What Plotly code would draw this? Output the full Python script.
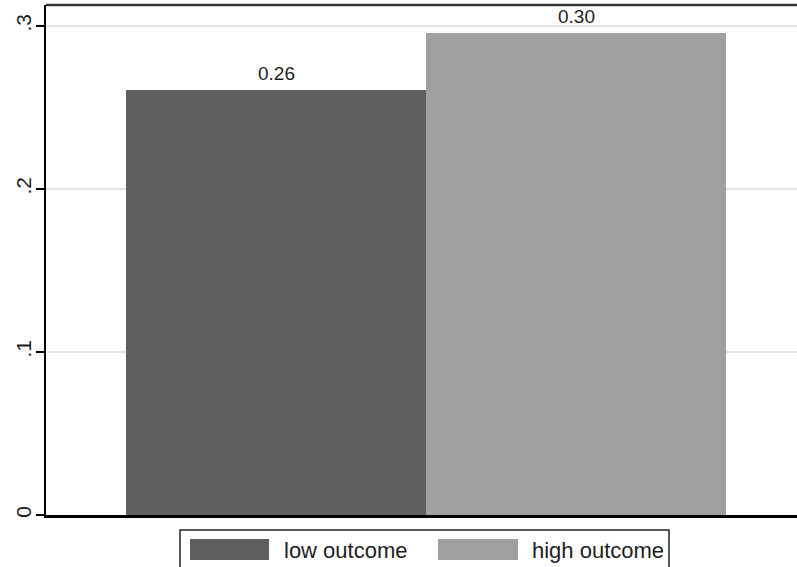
import plotly.graph_objects as go

# ---- data ----
categories = ["low outcome", "high outcome"]
values = [0.2607, 0.2957]
bar_labels = ["0.26", "0.30"]
colors = ["#5f5f5f", "#a0a0a0"]
ytick_vals = [0, 0.1, 0.2, 0.3]
ytick_text = ["0", ".1", ".2", ".3"]

W, H = 797, 567
ML, MR, MT, MB = 46, 0, 5, 52
PW, PH = W - ML - MR, H - MT - MB

def px_x(p):
    return (p - ML) / PW

def px_y(p):
    return (H - MB - p) / PH

FONT = "Liberation Sans, Arial, sans-serif"

fig = go.Figure()
for cat, val, col in zip(categories, values, colors):
    fig.add_trace(go.Bar(
        x=[cat], y=[val], name=cat, width=1,
        marker=dict(color=col, line=dict(color=col, width=0)),
        showlegend=False, hoverinfo="skip",
    ))

annotations = []
for cat, val, lab in zip(categories, values, bar_labels):
    annotations.append(dict(
        x=cat, y=val, xref="x", yref="y", text=lab, showarrow=False,
        yanchor="middle", yshift=17,
        font=dict(family=FONT, size=19, color="#1e1e1e"),
    ))

# custom legend (wide swatches like the original)
shapes = [
    dict(type="rect", xref="paper", yref="paper",
         x0=px_x(180), x1=px_x(669), y0=px_y(580), y1=px_y(530),
         line=dict(color="#222222", width=1.5), fillcolor="white", layer="above"),
    dict(type="rect", xref="paper", yref="paper",
         x0=px_x(190), x1=px_x(269), y0=px_y(560), y1=px_y(539),
         line=dict(color=colors[0], width=0), fillcolor=colors[0], layer="above"),
    dict(type="rect", xref="paper", yref="paper",
         x0=px_x(438), x1=px_x(518), y0=px_y(560), y1=px_y(539),
         line=dict(color=colors[1], width=0), fillcolor=colors[1], layer="above"),
    # top frame line
    dict(type="line", xref="paper", yref="paper", x0=0, x1=1, y0=1, y1=1,
         line=dict(color="#333333", width=2.5)),
]
annotations += [
    dict(x=px_x(282), y=px_y(550), xref="paper", yref="paper", text=categories[0],
         showarrow=False, xanchor="left", yanchor="middle",
         font=dict(family=FONT, size=22, color="#1e1e1e")),
    dict(x=px_x(530), y=px_y(550), xref="paper", yref="paper", text=categories[1],
         showarrow=False, xanchor="left", yanchor="middle",
         font=dict(family=FONT, size=22, color="#1e1e1e")),
]

fig.update_layout(
    width=W, height=H,
    margin=dict(l=ML, r=MR, t=MT, b=MB, pad=0),
    paper_bgcolor="white", plot_bgcolor="white",
    barmode="overlay", bargap=0,
    showlegend=False,
    shapes=shapes, annotations=annotations,
    xaxis=dict(
        type="category", range=[-0.7667, 1.7367],
        showticklabels=False, ticks="", showgrid=False,
        showline=True, linecolor="#000000", linewidth=3,
        zeroline=False, fixedrange=True,
    ),
    yaxis=dict(
        range=[0, (H - MB - MT) / 1630],
        tickvals=ytick_vals, ticktext=ytick_text, tickangle=-90,
        ticks="outside", ticklen=8, tickwidth=1.5, tickcolor="#000000",
        tickfont=dict(family=FONT, size=21, color="#1e1e1e"),
        showgrid=True, gridcolor="#e4e4e4", gridwidth=1.5,
        showline=True, linecolor="#000000", linewidth=2,
        zeroline=False, ticklabelstandoff=-3,
    ),
)

fig.write_html(
    "out.html",
    config={"displayModeBar": False},
    post_script="document.body.style.margin='0px';document.body.style.overflow='hidden';",
)
